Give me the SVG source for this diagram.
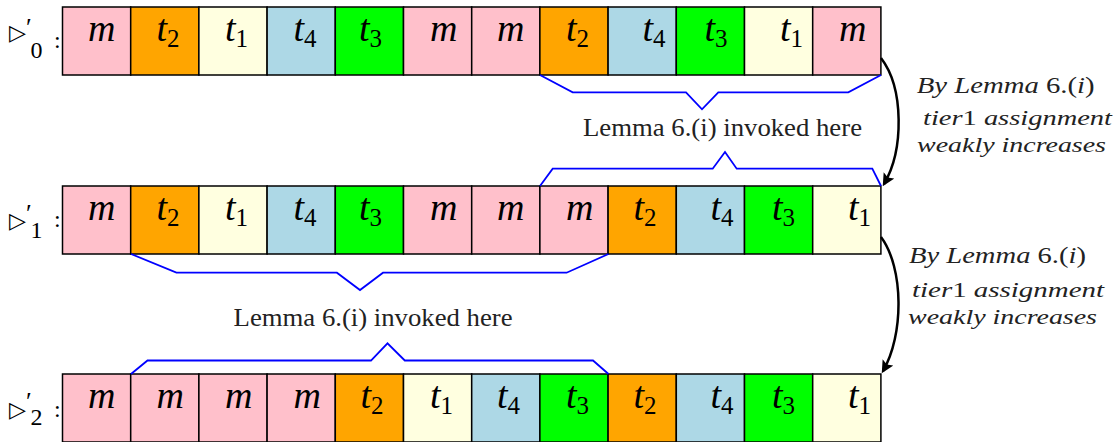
<svg xmlns="http://www.w3.org/2000/svg" width="1120" height="442" viewBox="0 0 1120 442">
<style>
rect{stroke:#000;stroke-width:1.5}
.m{fill:#FFC0CB}.a1{fill:#FFFFE0}.a2{fill:#FFA500}.a3{fill:#00FF00}.a4{fill:#ADD8E6}
.v{font-style:italic;font-size:38px;fill:#000}
.s{font-style:normal;font-size:25px}
.br{fill:none;stroke:#0000FF;stroke-width:1.8;stroke-linejoin:miter}
.lab{font-size:25px;fill:#222}
.it{font-style:italic;font-size:24px;fill:#222}
.it2{font-style:italic;font-size:22px;fill:#222}
.up{font-style:normal}
.tri{font-size:22px;fill:#000}
.pr{font-size:26px}
.sub{font-size:24px;fill:#000}
.arr{fill:none;stroke:#000;stroke-width:2.5}
</style>
<defs>
<marker id="ah" viewBox="0 0 10 10" refX="8" refY="5" markerWidth="5" markerHeight="5" orient="auto" markerUnits="strokeWidth">
<path d="M0,0 L10,5 L0,10 L2,5 Z" fill="#000"/>
</marker>
</defs>

<g id="labels" font-family="Liberation Serif, serif">
<g id="label0">
<text class="tri" font-family="DejaVu Sans, sans-serif" x="9" y="40">▷<tspan class="pr" font-family="Liberation Serif, serif" dy="-4">′</tspan><tspan class="sub" font-family="Liberation Serif, serif" dx="-1" dy="22">0</tspan></text>
<text class="sub" x="54" y="48">:</text>
</g>
<g id="label1">
<text class="tri" font-family="DejaVu Sans, sans-serif" x="9" y="228">▷<tspan class="pr" font-family="Liberation Serif, serif" dy="-6">′</tspan><tspan class="sub" font-family="Liberation Serif, serif" dx="-1" dy="16">1</tspan></text>
<text class="sub" x="54" y="227">:</text>
</g>
<g id="label2">
<text class="tri" font-family="DejaVu Sans, sans-serif" x="9" y="417">▷<tspan class="pr" font-family="Liberation Serif, serif" dy="-7">′</tspan><tspan class="sub" font-family="Liberation Serif, serif" dx="-1" dy="15">2</tspan></text>
<text class="sub" x="54" y="417">:</text>
</g>
</g>

<g id="row0" font-family="Liberation Serif, serif">
<g id="r0c0"><rect class="m" x="62.5" y="7" width="68.2" height="68"/><text class="v" x="88" y="41">m</text></g>
<g id="r0c1"><rect class="a2" x="130.7" y="7" width="68.2" height="68"/><text class="v" x="156.5" y="41">t<tspan class="s" dy="6">2</tspan></text></g>
<g id="r0c2"><rect class="a1" x="198.9" y="7" width="68.2" height="68"/><text class="v" x="225" y="41">t<tspan class="s" dy="6">1</tspan></text></g>
<g id="r0c3"><rect class="a4" x="267.1" y="7" width="68.2" height="68"/><text class="v" x="293.5" y="41">t<tspan class="s" dy="6">4</tspan></text></g>
<g id="r0c4"><rect class="a3" x="335.3" y="7" width="68.2" height="68"/><text class="v" x="359" y="41">t<tspan class="s" dy="6">3</tspan></text></g>
<g id="r0c5"><rect class="m" x="403.5" y="7" width="68.2" height="68"/><text class="v" x="430" y="41">m</text></g>
<g id="r0c6"><rect class="m" x="471.7" y="7" width="68.2" height="68"/><text class="v" x="497" y="41">m</text></g>
<g id="r0c7"><rect class="a2" x="539.9" y="7" width="68.2" height="68"/><text class="v" x="566" y="41">t<tspan class="s" dy="6">2</tspan></text></g>
<g id="r0c8"><rect class="a4" x="608.1" y="7" width="68.2" height="68"/><text class="v" x="642.5" y="41">t<tspan class="s" dy="6">4</tspan></text></g>
<g id="r0c9"><rect class="a3" x="676.3" y="7" width="68.2" height="68"/><text class="v" x="704.5" y="41">t<tspan class="s" dy="6">3</tspan></text></g>
<g id="r0c10"><rect class="a1" x="744.5" y="7" width="68.2" height="68"/><text class="v" x="780" y="41">t<tspan class="s" dy="6">1</tspan></text></g>
<g id="r0c11"><rect class="m" x="812.7" y="7" width="68.2" height="68"/><text class="v" x="839" y="41">m</text></g>
</g>

<g id="row1" font-family="Liberation Serif, serif">
<g id="r1c0"><rect class="m" x="62.5" y="186" width="68.2" height="68"/><text class="v" x="88" y="220">m</text></g>
<g id="r1c1"><rect class="a2" x="130.7" y="186" width="68.2" height="68"/><text class="v" x="156.5" y="220">t<tspan class="s" dy="6">2</tspan></text></g>
<g id="r1c2"><rect class="a1" x="198.9" y="186" width="68.2" height="68"/><text class="v" x="225" y="220">t<tspan class="s" dy="6">1</tspan></text></g>
<g id="r1c3"><rect class="a4" x="267.1" y="186" width="68.2" height="68"/><text class="v" x="293.5" y="220">t<tspan class="s" dy="6">4</tspan></text></g>
<g id="r1c4"><rect class="a3" x="335.3" y="186" width="68.2" height="68"/><text class="v" x="359" y="220">t<tspan class="s" dy="6">3</tspan></text></g>
<g id="r1c5"><rect class="m" x="403.5" y="186" width="68.2" height="68"/><text class="v" x="430" y="220">m</text></g>
<g id="r1c6"><rect class="m" x="471.7" y="186" width="68.2" height="68"/><text class="v" x="497" y="220">m</text></g>
<g id="r1c7"><rect class="m" x="539.9" y="186" width="68.2" height="68"/><text class="v" x="566" y="220">m</text></g>
<g id="r1c8"><rect class="a2" x="608.1" y="186" width="68.2" height="68"/><text class="v" x="633.5" y="220">t<tspan class="s" dy="6">2</tspan></text></g>
<g id="r1c9"><rect class="a4" x="676.3" y="186" width="68.2" height="68"/><text class="v" x="710.5" y="220">t<tspan class="s" dy="6">4</tspan></text></g>
<g id="r1c10"><rect class="a3" x="744.5" y="186" width="68.2" height="68"/><text class="v" x="772" y="220">t<tspan class="s" dy="6">3</tspan></text></g>
<g id="r1c11"><rect class="a1" x="812.7" y="186" width="68.2" height="68"/><text class="v" x="848" y="220">t<tspan class="s" dy="6">1</tspan></text></g>
</g>

<g id="row2" font-family="Liberation Serif, serif">
<g id="r2c0"><rect class="m" x="62.5" y="374" width="68.2" height="68"/><text class="v" x="88" y="408">m</text></g>
<g id="r2c1"><rect class="m" x="130.7" y="374" width="68.2" height="68"/><text class="v" x="156.5" y="408">m</text></g>
<g id="r2c2"><rect class="m" x="198.9" y="374" width="68.2" height="68"/><text class="v" x="225" y="408">m</text></g>
<g id="r2c3"><rect class="m" x="267.1" y="374" width="68.2" height="68"/><text class="v" x="293.5" y="408">m</text></g>
<g id="r2c4"><rect class="a2" x="335.3" y="374" width="68.2" height="68"/><text class="v" x="360.5" y="408">t<tspan class="s" dy="6">2</tspan></text></g>
<g id="r2c5"><rect class="a1" x="403.5" y="374" width="68.2" height="68"/><text class="v" x="430" y="408">t<tspan class="s" dy="6">1</tspan></text></g>
<g id="r2c6"><rect class="a4" x="471.7" y="374" width="68.2" height="68"/><text class="v" x="497" y="408">t<tspan class="s" dy="6">4</tspan></text></g>
<g id="r2c7"><rect class="a3" x="539.9" y="374" width="68.2" height="68"/><text class="v" x="566" y="408">t<tspan class="s" dy="6">3</tspan></text></g>
<g id="r2c8"><rect class="a2" x="608.1" y="374" width="68.2" height="68"/><text class="v" x="633.5" y="408">t<tspan class="s" dy="6">2</tspan></text></g>
<g id="r2c9"><rect class="a4" x="676.3" y="374" width="68.2" height="68"/><text class="v" x="710.5" y="408">t<tspan class="s" dy="6">4</tspan></text></g>
<g id="r2c10"><rect class="a3" x="744.5" y="374" width="68.2" height="68"/><text class="v" x="772" y="408">t<tspan class="s" dy="6">3</tspan></text></g>
<g id="r2c11"><rect class="a1" x="812.7" y="374" width="68.2" height="68"/><text class="v" x="848" y="408">t<tspan class="s" dy="6">1</tspan></text></g>
</g>

<g id="braces" font-family="Liberation Serif, serif">
<path class="br" d="M540,75 L572.7,92.3 L686,92.3 L702,109.3 L718.3,92.3 L848.3,92.3 L881,75"/>
<path class="br" d="M540,186 L552.7,168.7 L712.7,168.7 L725,152 L736.7,168.7 L872.3,168.7 L881,186"/>
<path class="br" d="M131,254 L176.4,272.7 L336.9,272.7 L360,290 L383,272.7 L566.6,272.7 L608.5,254"/>
<path class="br" d="M131,374 L147.5,360.5 L371,360.5 L387.5,343.3 L404.8,360.5 L593,360.5 L608.5,374"/>
<text class="lab" x="583" y="136" textLength="279" lengthAdjust="spacingAndGlyphs">Lemma 6.(i) invoked here</text>
<text class="lab" x="233.6" y="326" textLength="279" lengthAdjust="spacingAndGlyphs">Lemma 6.(i) invoked here</text>
</g>

<g id="connectors" font-family="Liberation Serif, serif">
<path class="arr" d="M881,58 C904,88 904,150 884,184" marker-end="url(#ah)"/>
<path class="arr" d="M881,237 C904,268 904,335 883,371" marker-end="url(#ah)"/>
<text class="it" x="916.7" y="93" textLength="178" lengthAdjust="spacingAndGlyphs">By Lemma <tspan class="up">6.(</tspan>i<tspan class="up">)</tspan></text>
<text class="it2" x="923" y="125" textLength="189" lengthAdjust="spacingAndGlyphs">tier<tspan class="up">1</tspan> assignment</text>
<text class="it2" x="917" y="151.5" textLength="189" lengthAdjust="spacingAndGlyphs">weakly increases</text>
<text class="it" x="909" y="263" textLength="177" lengthAdjust="spacingAndGlyphs">By Lemma <tspan class="up">6.(</tspan>i<tspan class="up">)</tspan></text>
<text class="it2" x="912" y="297" textLength="192" lengthAdjust="spacingAndGlyphs">tier<tspan class="up">1</tspan> assignment</text>
<text class="it2" x="908" y="323.5" textLength="189" lengthAdjust="spacingAndGlyphs">weakly increases</text>
</g>
</svg>
